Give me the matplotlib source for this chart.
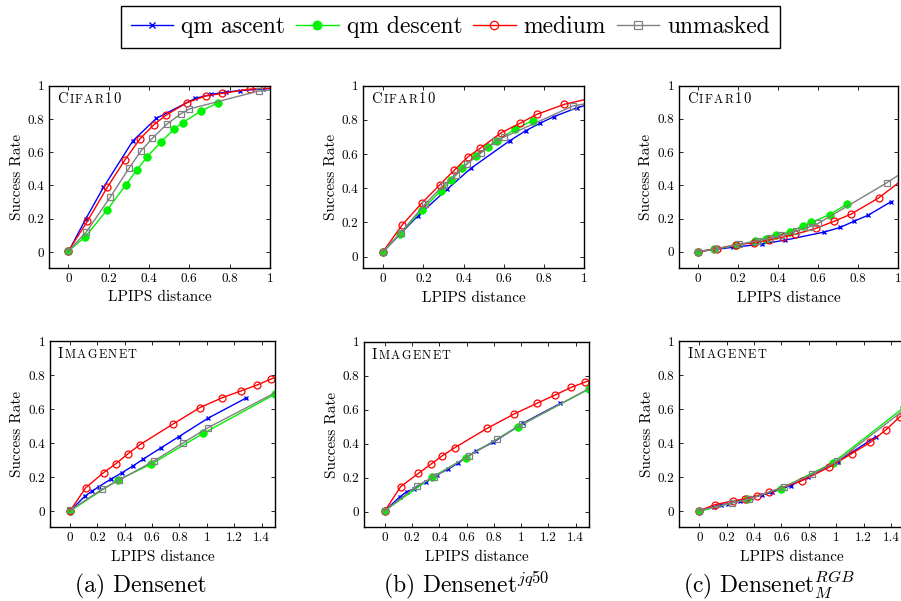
import matplotlib
matplotlib.use("Agg")
import matplotlib.pyplot as plt
from matplotlib.transforms import offset_copy
from matplotlib.lines import Line2D

plt.rcParams['font.family'] = ['cmr10', 'DejaVu Serif']
plt.rcParams['mathtext.fontset'] = 'cm'
plt.rcParams['axes.formatter.use_mathtext'] = True

# ---------------- data ----------------
series_names = ["qm ascent", "qm descent", "medium", "unmasked"]

# CIFAR10 row: LPIPS thresholds per series
asc_x_c = [0, 0.087, 0.174, 0.32, 0.437, 0.63, 0.71, 0.78, 0.85, 0.965, 1.1]
desc_x_c = [0, 0.083, 0.193, 0.286, 0.34, 0.392, 0.461, 0.524, 0.567, 0.658, 0.744]
med_x_c = [0, 0.094, 0.193, 0.281, 0.355, 0.423, 0.483, 0.588, 0.681, 0.764, 0.902, 1.1]
unm_x_c = [0, 0.088, 0.207, 0.302, 0.362, 0.417, 0.488, 0.559, 0.6, 0.944, 1.1]

# (a) Densenet, CIFAR10
a_c_asc = [0, 0.2, 0.388, 0.668, 0.804, 0.924, 0.948, 0.962, 0.97, 0.98, 0.99]
a_c_desc = [0.005, 0.09, 0.254, 0.404, 0.494, 0.574, 0.664, 0.738, 0.778, 0.848, 0.898]
a_c_med = [0.005, 0.184, 0.388, 0.554, 0.68, 0.764, 0.822, 0.898, 0.938, 0.954, 0.98, 0.99]
a_c_unm = [0.005, 0.118, 0.328, 0.506, 0.61, 0.684, 0.768, 0.832, 0.86, 0.968, 0.985]

# (b) Densenet jq50, CIFAR10
b_c_asc = [0.029, 0.135, 0.24, 0.396, 0.517, 0.678, 0.737, 0.78, 0.819, 0.871, 0.915]
b_c_desc = [0.03, 0.133, 0.273, 0.384, 0.448, 0.517, 0.59, 0.643, 0.678, 0.747, 0.795]
b_c_med = [0.03, 0.185, 0.314, 0.419, 0.507, 0.585, 0.634, 0.725, 0.78, 0.832, 0.891, 0.945]
b_c_unm = [0.03, 0.14, 0.306, 0.419, 0.478, 0.542, 0.608, 0.676, 0.698, 0.881, 0.914]

# (c) Densenet RGB M, CIFAR10
c_c_asc = [0, 0.014, 0.026, 0.046, 0.07, 0.118, 0.146, 0.184, 0.22, 0.302]
c_c_desc = [0, 0.016, 0.038, 0.064, 0.078, 0.098, 0.12, 0.154, 0.176, 0.224, 0.286]
c_c_med = [0, 0.018, 0.042, 0.054, 0.07, 0.088, 0.104, 0.14, 0.184, 0.226, 0.324, 0.506]
c_c_unm = [0, 0.016, 0.044, 0.066, 0.082, 0.098, 0.124, 0.15, 0.17, 0.416, 0.54]

# ImageNet row: LPIPS thresholds per series
asc_x_i = [0, 0.11, 0.16, 0.21, 0.3, 0.38, 0.46, 0.533, 0.668, 0.795, 1.011, 1.288]
desc_x_i = [0, 0.348, 0.595, 0.975, 1.495]
med_x_i = [0, 0.115, 0.245, 0.335, 0.421, 0.511, 0.75, 0.949, 1.114, 1.248, 1.366, 1.465, 1.6]
unm_x_i = [0, 0.237, 0.361, 0.617, 0.825, 1.008, 1.6]

a_i_asc = [0, 0.088, 0.116, 0.143, 0.188, 0.225, 0.265, 0.304, 0.373, 0.437, 0.547, 0.665]
a_i_desc = [0, 0.182, 0.276, 0.457, 0.686]
a_i_med = [0, 0.137, 0.225, 0.278, 0.335, 0.39, 0.51, 0.608, 0.667, 0.706, 0.741, 0.775, 0.82]
a_i_unm = [0.004, 0.129, 0.182, 0.296, 0.4, 0.49, 0.738]

b_i_asc = [0.006, 0.088, 0.118, 0.133, 0.176, 0.216, 0.249, 0.284, 0.357, 0.408, 0.52, 0.637]
b_i_desc = [0.006, 0.204, 0.318, 0.5, 0.72]
b_i_med = [0.006, 0.147, 0.225, 0.278, 0.329, 0.376, 0.49, 0.575, 0.637, 0.686, 0.731, 0.761, 0.8]
b_i_unm = [0.006, 0.153, 0.206, 0.329, 0.427, 0.514, 0.768]

c_i_asc = [0, 0.027, 0.037, 0.045, 0.061, 0.078, 0.096, 0.112, 0.151, 0.2, 0.292, 0.437]
c_i_desc = [0, 0.071, 0.133, 0.284, 0.61]
c_i_med = [0.004, 0.039, 0.061, 0.073, 0.092, 0.112, 0.18, 0.259, 0.339, 0.404, 0.48, 0.555, 0.63]
c_i_unm = [0.004, 0.049, 0.071, 0.143, 0.218, 0.294, 0.66]

xticks_c = [0, 0.2, 0.4, 0.6, 0.8, 1.0]
xticklabels_c = ["0", "0.2", "0.4", "0.6", "0.8", "1"]
xticks_i = [0, 0.2, 0.4, 0.6, 0.8, 1.0, 1.2, 1.4]
xticklabels_i = ["0", "0.2", "0.4", "0.6", "0.8", "1", "1.2", "1.4"]
yticks = [0, 0.2, 0.4, 0.6, 0.8, 1.0]
yticklabels = ["0", "0.2", "0.4", "0.6", "0.8", "1"]

captions = ["(a) Densenet", r"(b) Densenet$^{jq50}$", r"(c) Densenet$_{M}^{RGB}$"]

# ---------------- styles ----------------
styles = [
    dict(color=(0, 0, 1), marker='x', markersize=3.5, mew=1.0, mfc=(0, 0, 1)),
    dict(color=(0, 0.95, 0), marker='o', markersize=5.5, mew=0.5, mfc=(0, 0.95, 0)),
    dict(color=(1, 0, 0), marker='o', markersize=5.0, mew=0.9, mfc='none'),
    dict(color=(0.5, 0.5, 0.5), marker='s', markersize=4.5, mew=0.9, mfc='none'),
]

W, H = 901, 601
fig = plt.figure(figsize=(W / 100, H / 100), dpi=100)
renderer = fig.canvas.get_renderer()


def add_axes_px(l, t, r, b):
    return fig.add_axes([l / W, 1 - b / H, (r - l) / W, (b - t) / H])


panels = [
    ((49.3, 85.7, 270.0, 268.0), (-0.094, 1.0), (-0.096, 1.0),
     [asc_x_c, desc_x_c, med_x_c, unm_x_c], [a_c_asc, a_c_desc, a_c_med, a_c_unm], 'c'),
    ((363.3, 85.7, 584.0, 268.3), (-0.099, 1.0), (-0.068, 1.0),
     [asc_x_c, desc_x_c, med_x_c, unm_x_c], [b_c_asc, b_c_desc, b_c_med, b_c_unm], 'c'),
    ((679.0, 85.7, 898.3, 268.3), (-0.093, 1.0), (-0.1, 1.0),
     [asc_x_c, desc_x_c, med_x_c, unm_x_c], [c_c_asc, c_c_desc, c_c_med, c_c_unm], 'c'),
    ((50.0, 341.0, 275.3, 527.3), (-0.146, 1.5), (-0.096, 1.0),
     [asc_x_i, desc_x_i, med_x_i, unm_x_i], [a_i_asc, a_i_desc, a_i_med, a_i_unm], 'i'),
    ((364.0, 341.7, 589.3, 527.3), (-0.154, 1.5), (-0.092, 1.0),
     [asc_x_i, desc_x_i, med_x_i, unm_x_i], [b_i_asc, b_i_desc, b_i_med, b_i_unm], 'i'),
    ((679.3, 341.0, 904.6, 527.3), (-0.146, 1.5), (-0.094, 1.0),
     [asc_x_i, desc_x_i, med_x_i, unm_x_i], [c_i_asc, c_i_desc, c_i_med, c_i_unm], 'i'),
]


def smallcaps(ax, parts, x_px, y_px, gap=1.3):
    dx = 0.0
    for s, size in parts:
        for ch in s:
            tr = offset_copy(ax.transAxes, fig=fig, x=x_px + dx, y=-y_px, units='dots')
            t = ax.text(0, 1, ch, transform=tr, fontsize=size, va='baseline',
                        ha='left', color='black')
            dx += t.get_window_extent(renderer).width + gap


for box, xlim, ylim, xs, ys, kind in panels:
    ax = add_axes_px(*box)
    for x, y, st in zip(xs, ys, styles):
        ax.plot(x[:len(y)], y, lw=1.0, clip_on=True, **st)
    ax.set_xlim(*xlim)
    ax.set_ylim(*ylim)
    if kind == 'c':
        ax.set_xticks(xticks_c)
        ax.set_xticklabels(xticklabels_c)
    else:
        ax.set_xticks(xticks_i)
        ax.set_xticklabels(xticklabels_i)
    ax.set_yticks(yticks)
    ax.set_yticklabels(yticklabels)
    ax.tick_params(direction='in', length=3, width=0.6, top=True, right=True,
                   labelsize=9.5, pad=3.5)
    for sp in ax.spines.values():
        sp.set_linewidth(1.0)
        sp.set_color('black')
    ax.set_xlabel("LPIPS distance", fontsize=11, labelpad=4)
    ax.set_ylabel("Success Rate", fontsize=11, labelpad=2.8)
    if kind == 'c':
        smallcaps(ax, [("C", 10.5), ("IFAR", 8.8), ("10", 10.5)], 8, 17)
    else:
        smallcaps(ax, [("I", 10.5), ("MAGENET", 8.8)], 8, 17)

# legend
handles = [Line2D([], [], lw=1.0, **st) for st in styles]
leg = fig.legend(handles, series_names, loc='upper center', ncol=4,
                 bbox_to_anchor=(450.5 / W, 1 - 6 / H), fontsize=17,
                 frameon=True, fancybox=False, edgecolor='black', framealpha=1,
                 borderpad=0.42, handlelength=1.8, handletextpad=0.35,
                 columnspacing=0.45, markerscale=1.2, borderaxespad=0)
leg.get_frame().set_linewidth(1.0)

# captions
cap_x = [140.5, 466.0, 768.5]
for cx, cap in zip(cap_x, captions):
    fig.text(cx / W, 1 - 592 / H, cap, fontsize=17, ha='center', va='baseline')

fig.savefig("out.png", dpi=100)
